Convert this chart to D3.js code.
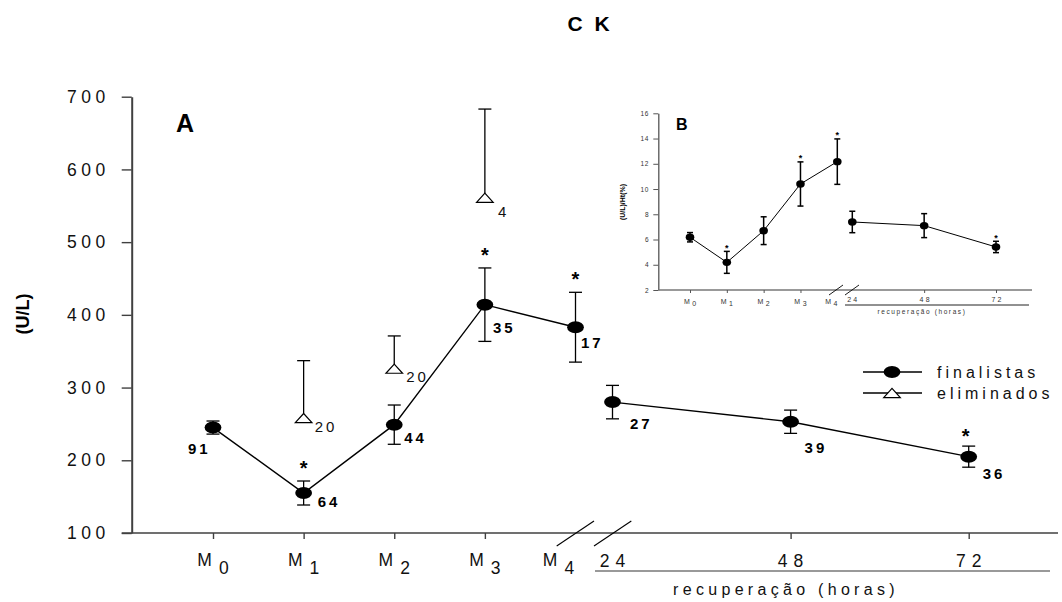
<!DOCTYPE html>
<html>
<head>
<meta charset="utf-8">
<script src="https://cdn.jsdelivr.net/npm/d3@7"></script>
<style>
  html, body { margin: 0; padding: 0; background: #fff; }
  svg { display: block; font-family: "Liberation Sans", Arial, Helvetica, sans-serif; }
</style>
</head>
<body>
<svg id="chart" width="1062" height="602"></svg>
<script>
// ---- data: CK activity (U/L) ----
const stages = ["M0", "M1", "M2", "M3", "M4"];
const stageSub = ["0", "1", "2", "3", "4"];
const hours = [24, 48, 72];
const yTicks = [100, 200, 300, 400, 500, 600, 700];

// finalists during the race
const finMean = [245, 155, 249, 414, 383];
const finErr = [9, 16.5, 27, 50.5, 48];
const finN = [91, 64, 44, 35, 17];
// finalists during recovery (hours)
const recMean = [280, 253, 205];
const recErr = [23, 16, 14.5];
const recN = [27, 39, 36];
// eliminated horses
const elimStages = ["M1", "M2", "M3"];
const elimMean = [258, 326, 561];
const elimErr = [79, 45, 122];
const elimN = [20, 20, 4];
// significance marks
const sigStages = ["M1", "M3", "M4"];
const sigHours = [72];

// ---- data: CK corrected by haematocrit, (U/L)/Ht(%) ----
const insetTicks = [2, 4, 6, 8, 10, 12, 14, 16];
const htMean = [6.18, 4.19, 6.7, 10.4, 12.17];
const htErr = [0.37, 0.87, 1.1, 1.75, 1.8];
const htRecMean = [7.39, 7.1, 5.41];
const htRecErr = [0.85, 0.95, 0.45];
const htSigStages = ["M1", "M3", "M4"];
const htSigHours = [72];

// ---- layout ----
const svg = d3.select("#chart");
const axisColor = "#404040";

// main panel scales
const y = d3.scaleLinear().domain([100, 700]).range([533, 96.7]);
const xM = d3.scalePoint().domain(stages).range([213, 575.5]);
const xH = d3.scaleLinear().domain([24, 72]).range([612.5, 968.7]);
const axisLeftX = 131.7, axisRightX = 1058;

// offsets for the sample-size labels (dx, dy from the marker)
const finLabelOff = [[-25, 26], [14, 13.5], [10, 18], [8, 28], [5.5, 21]];
const recLabelOff = [[17.5, 27], [14, 31], [14, 22]];
const elimLabelOff = [[11, 14], [12, 13], [13, 19.5]];

const g = svg.append("g");

// title and axis title
svg.append("text").attr("x", 590).attr("y", 31).attr("text-anchor", "middle")
  .attr("font-size", 21).attr("font-weight", "bold").attr("letter-spacing", 3)
  .text("C K");
svg.append("text").attr("transform", "translate(29,314) rotate(-90)")
  .attr("text-anchor", "middle").attr("font-size", 18).attr("font-weight", "bold")
  .text("(U/L)");
svg.append("text").attr("x", 176).attr("y", 132)
  .attr("font-size", 25).attr("font-weight", "bold").text("A");

// y axis
const yAxis = g.append("g").attr("transform", `translate(${axisLeftX},0)`)
  .call(d3.axisLeft(y).tickValues(yTicks).tickSize(10).tickSizeOuter(0).tickPadding(12))
  ;
yAxis.select(".domain").attr("stroke", axisColor).attr("stroke-width", 2);
yAxis.selectAll(".tick line").attr("stroke", axisColor).attr("stroke-width", 1.4);
yAxis.selectAll(".tick text").attr("font-size", 17.5).attr("letter-spacing", 4.5)
  .attr("fill", "#111").attr("font-family", null);

// x axis line
g.append("line").attr("x1", axisLeftX - 10).attr("x2", axisRightX)
  .attr("y1", y(100)).attr("y2", y(100))
  .attr("stroke", axisColor).attr("stroke-width", 1.6);

// x ticks (stages M0..M3, hours 48 and 72)
const xTickStage = g.append("g").attr("transform", `translate(0,${y(100)})`)
  .call(d3.axisBottom(xM).tickValues(stages.slice(0, 4)).tickSize(6).tickFormat(""));
xTickStage.select(".domain").remove();
xTickStage.selectAll(".tick line").attr("stroke", axisColor).attr("stroke-width", 1.4);
const xTickHour = g.append("g").attr("transform", `translate(0,${y(100)})`)
  .call(d3.axisBottom(xH).tickValues(hours.slice(1)).tickSize(6).tickFormat(""));
xTickHour.select(".domain").remove();
xTickHour.selectAll(".tick line").attr("stroke", axisColor).attr("stroke-width", 1.4);

// stage labels with subscript
stages.forEach((s, i) => {
  const shift = i === 4 ? -17 : 0;
  const t = g.append("text").attr("x", xM(s) + shift).attr("y", 566)
    .attr("text-anchor", "middle").attr("font-size", 17.5).attr("fill", "#111");
  t.append("tspan").text("M");
  t.append("tspan").attr("dx", 7).attr("dy", 7.5).text(stageSub[i]);
});
// hour labels
hours.forEach(h => {
  g.append("text").attr("x", xH(h) + 3).attr("y", 567).attr("text-anchor", "middle")
    .attr("font-size", 17.5).attr("letter-spacing", 6).attr("fill", "#111").text(h);
});
g.append("line").attr("x1", 595).attr("x2", 1050).attr("y1", 571).attr("y2", 571)
  .attr("stroke", "#777").attr("stroke-width", 1.6);
g.append("text").attr("x", 786).attr("y", 595).attr("text-anchor", "middle")
  .attr("font-size", 16).attr("letter-spacing", 4.3).attr("fill", "#111")
  .text("recuperação (horas)");

// axis break marks
[0, 37.3].forEach(off => {
  g.append("line").attr("x1", 556.7 + off).attr("y1", 546).attr("x2", 594 + off).attr("y2", 521)
    .attr("stroke", "#000").attr("stroke-width", 1.1);
});

// error bars helper
function errBar(sel, x, yTop, yBot, cap, w) {
  sel.append("line").attr("x1", x).attr("x2", x).attr("y1", yTop).attr("y2", yBot)
    .attr("stroke", "#000").attr("stroke-width", w);
  [yTop, yBot].forEach(yy => {
    if (yy === null) return;
    sel.append("line").attr("x1", x - cap).attr("x2", x + cap).attr("y1", yy).attr("y2", yy)
      .attr("stroke", "#000").attr("stroke-width", w);
  });
}

// eliminated: upper error bars, open triangles, labels
const triPath = "M0,-4.6L8.3,4.6L-8.3,4.6Z";
elimStages.forEach((s, i) => {
  const cx = xM(s), cy = y(elimMean[i]);
  g.append("line").attr("x1", cx).attr("x2", cx).attr("y1", cy - 4.6).attr("y2", y(elimMean[i] + elimErr[i]))
    .attr("stroke", "#000").attr("stroke-width", 1.3);
  g.append("line").attr("x1", cx - 6.5).attr("x2", cx + 6.5)
    .attr("y1", y(elimMean[i] + elimErr[i])).attr("y2", y(elimMean[i] + elimErr[i]))
    .attr("stroke", "#000").attr("stroke-width", 1.3);
  g.append("path").attr("d", triPath).attr("transform", `translate(${cx},${cy})`)
    .attr("fill", "#fff").attr("stroke", "#000").attr("stroke-width", 1.2);
  g.append("text").attr("x", cx + elimLabelOff[i][0]).attr("y", cy + elimLabelOff[i][1])
    .attr("font-size", 15).attr("letter-spacing", 3).attr("fill", "#111").text(elimN[i]);
});

// finalists: lines
const lineM = d3.line().x((d, i) => xM(stages[i])).y(d => y(d));
const lineH = d3.line().x((d, i) => xH(hours[i])).y(d => y(d));
g.append("path").attr("d", lineM(finMean)).attr("fill", "none").attr("stroke", "#000").attr("stroke-width", 1.4);
g.append("path").attr("d", lineH(recMean)).attr("fill", "none").attr("stroke", "#000").attr("stroke-width", 1.4);

function finPoint(cx, mean, err, n, off) {
  errBar(g, cx, y(mean + err), y(mean - err), 6.5, 1.3);
  g.append("ellipse").attr("cx", cx).attr("cy", y(mean)).attr("rx", 8.4).attr("ry", 6)
    .attr("fill", "#000");
  g.append("text").attr("x", cx + off[0]).attr("y", y(mean) + off[1])
    .attr("font-size", 15).attr("font-weight", "bold").attr("letter-spacing", 3).text(n);
}
stages.forEach((s, i) => finPoint(xM(s), finMean[i], finErr[i], finN[i], finLabelOff[i]));
hours.forEach((h, i) => finPoint(xH(h), recMean[i], recErr[i], recN[i], recLabelOff[i]));

// significance asterisks
function star(sel, cx, yTop, size, gap) {
  sel.append("text").attr("x", cx).attr("y", yTop - gap).attr("text-anchor", "middle")
    .attr("font-size", size).attr("font-weight", "bold").text("*");
}
sigStages.forEach(s => {
  const i = stages.indexOf(s);
  star(g, xM(s), y(finMean[i] + finErr[i]), 20, 6);
});
sigHours.forEach(h => {
  const i = hours.indexOf(h);
  star(g, xH(h) - 3, y(recMean[i] + recErr[i]), 20, 3);
});

// legend
const leg = g.append("g");
[["finalistas", 372], ["eliminados", 393]].forEach(([label, ly], k) => {
  leg.append("line").attr("x1", 863).attr("x2", 922).attr("y1", ly).attr("y2", ly)
    .attr("stroke", "#000").attr("stroke-width", 1.3);
  if (k === 0) {
    leg.append("ellipse").attr("cx", 892).attr("cy", ly).attr("rx", 8.4).attr("ry", 6).attr("fill", "#000");
  } else {
    leg.append("path").attr("d", triPath).attr("transform", `translate(892,${ly})`)
      .attr("fill", "#fff").attr("stroke", "#000").attr("stroke-width", 1.2);
  }
  leg.append("text").attr("x", 937).attr("y", ly + 5.5).attr("font-size", 16)
    .attr("letter-spacing", 4).attr("fill", "#111").text(label);
});

// ---- inset B ----
const ins = svg.append("g");
const yi = d3.scaleLinear().domain([2, 16]).range([290, 113.3]);
const xiM = d3.scalePoint().domain(stages).range([690, 837.3]);
const xiH = d3.scaleLinear().domain([24, 72]).range([852.3, 996]);
const insGrey = "#555";

ins.append("text").attr("x", 676).attr("y", 130).attr("font-size", 16).attr("font-weight", "bold").text("B");
ins.append("text").attr("transform", "translate(625,202) rotate(-90)").attr("text-anchor", "middle")
  .attr("font-size", 7).attr("font-weight", "bold").text("(U/L)/Ht(%)");

const yiAxis = ins.append("g").attr("transform", "translate(658.3,0)")
  .call(d3.axisLeft(yi).tickValues(insetTicks).tickSize(5).tickSizeOuter(0).tickPadding(4));
yiAxis.select(".domain").attr("stroke", insGrey).attr("stroke-width", 1.3);
yiAxis.selectAll(".tick line").attr("stroke", insGrey);
yiAxis.selectAll(".tick text").attr("font-size", 6.5).attr("letter-spacing", 0.8)
  .attr("fill", "#333").attr("font-family", null);

ins.append("line").attr("x1", 658.3).attr("x2", 1032).attr("y1", 290).attr("y2", 290)
  .attr("stroke", "#777").attr("stroke-width", 1.4);
const xiT1 = ins.append("g").attr("transform", "translate(0,290)")
  .call(d3.axisBottom(xiM).tickValues(stages.slice(0, 4)).tickSize(3).tickFormat(""));
xiT1.select(".domain").remove();
xiT1.selectAll(".tick line").attr("stroke", insGrey);
const xiT2 = ins.append("g").attr("transform", "translate(0,290)")
  .call(d3.axisBottom(xiH).tickValues(hours.slice(1)).tickSize(3).tickFormat(""));
xiT2.select(".domain").remove();
xiT2.selectAll(".tick line").attr("stroke", insGrey);

stages.forEach((s, i) => {
  const shift = i === 4 ? -6 : 0;
  const t = ins.append("text").attr("x", xiM(s) + shift).attr("y", 303.5)
    .attr("text-anchor", "middle").attr("font-size", 7).attr("fill", "#333");
  t.append("tspan").text("M");
  t.append("tspan").attr("dx", 2.5).attr("dy", 2.5).text(stageSub[i]);
});
hours.forEach(h => {
  ins.append("text").attr("x", xiH(h) + (h === 24 ? 1 : 1.5)).attr("y", 302).attr("text-anchor", "middle")
    .attr("font-size", 7).attr("letter-spacing", 2.2).attr("fill", "#333").text(h);
});
ins.append("line").attr("x1", 845).attr("x2", 1029).attr("y1", 305).attr("y2", 305)
  .attr("stroke", "#222").attr("stroke-width", 1);
ins.append("text").attr("x", 922).attr("y", 314).attr("text-anchor", "middle")
  .attr("font-size", 6.5).attr("letter-spacing", 1.6).attr("fill", "#333")
  .text("recuperação (horas)");
[0, 16].forEach(off => {
  ins.append("line").attr("x1", 829 + off).attr("y1", 295).attr("x2", 843 + off).attr("y2", 285)
    .attr("stroke", "#000").attr("stroke-width", 0.9);
});

const liM = d3.line().x((d, i) => xiM(stages[i])).y(d => yi(d));
const liH = d3.line().x((d, i) => xiH(hours[i])).y(d => yi(d));
ins.append("path").attr("d", liM(htMean)).attr("fill", "none").attr("stroke", "#000").attr("stroke-width", 1);
ins.append("path").attr("d", liH(htRecMean)).attr("fill", "none").attr("stroke", "#000").attr("stroke-width", 1);

function insPoint(cx, mean, err) {
  errBar(ins, cx, yi(mean + err), yi(mean - err), 3, 1.5);
  ins.append("ellipse").attr("cx", cx).attr("cy", yi(mean)).attr("rx", 4.3).attr("ry", 3.7).attr("fill", "#000");
}
stages.forEach((s, i) => insPoint(xiM(s), htMean[i], htErr[i]));
hours.forEach((h, i) => insPoint(xiH(h), htRecMean[i], htRecErr[i]));

htSigStages.forEach(s => {
  const i = stages.indexOf(s);
  star(ins, xiM(s), yi(htMean[i] + htErr[i]), 9, 0.5);
});
htSigHours.forEach(h => {
  const i = hours.indexOf(h);
  star(ins, xiH(h), yi(htRecMean[i] + htRecErr[i]), 9, 0.5);
});
</script>
</body>
</html>
